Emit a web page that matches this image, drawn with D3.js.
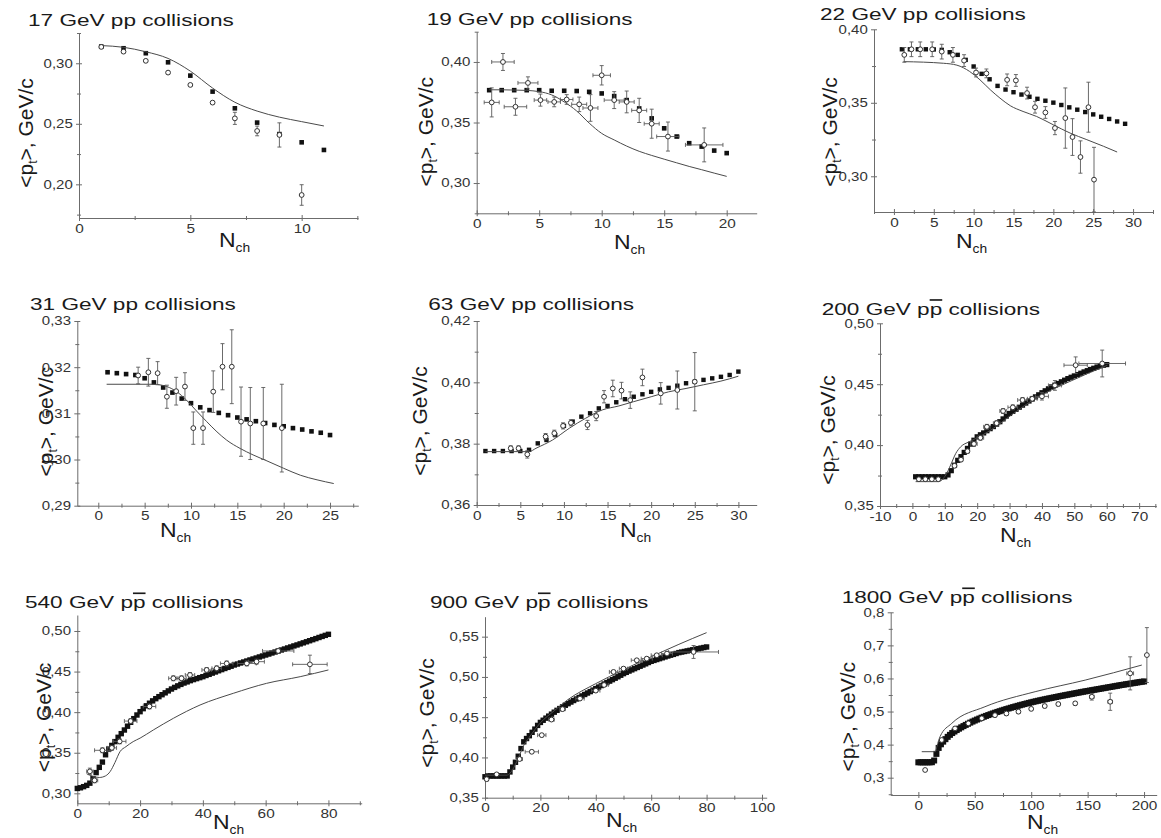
<!DOCTYPE html>
<html>
<head>
<meta charset="utf-8">
<script src="https://cdn.jsdelivr.net/npm/d3@7"></script>
<style>
  body { margin: 0; background: #fff; }
  svg { display: block; font-family: "Liberation Sans", Arial, Helvetica, sans-serif; }
</style>
</head>
<body>
<svg id="chart" width="1161" height="838"></svg>
<script>
// ---------- 17 GeV pp ----------
const nch17   = [1,2,3,4,5,6,7,8,9,10,11];
const calc17  = [0.3138,0.3124,0.3083,0.3008,0.2898,0.2766,0.2628,0.2510,0.2415,0.2347,0.2284];
const fit17   = [0.3146,0.3132,0.3095,0.3040,0.2935,0.2795,0.2678,0.2605,0.2555,0.2518,0.2482];
const data17N   = [1,2,3,4,5,6,7,8,9,10];
const data17Pt  = [0.3135,0.3096,0.3020,0.2923,0.2821,0.2675,0.2545,0.2441,0.2408,0.1912];
const data17Err = [0.001,0.001,0.001,0.001,0.001,0.001,0.005,0.004,0.010,0.0085];
const data17ErrN = [0,0,0,0,0,0,0,0,0,0];

// ---------- 19 GeV pp ----------
const nch19   = [1,2,3,4,5,6,7,8,9,10,11,12,13,14,15,16,17,18,19,20];
const calc19  = [0.3767,0.3767,0.3767,0.3767,0.3767,0.3762,0.3762,0.3760,0.3753,0.3740,0.3718,0.3685,0.3616,0.3534,0.3452,0.3384,0.3329,0.3301,0.3268,0.3247];
const fitN19  = [1,2,3,4,5,6,7,8,9,10,11,12,13,14,15,16,17,18,19,20];
const fit19   = [0.3770,0.3770,0.3768,0.3765,0.3755,0.3728,0.3670,0.3595,0.3495,0.3410,0.3356,0.3305,0.3262,0.3228,0.3197,0.3167,0.3137,0.3110,0.3082,0.3055];
const data19N   = [1.2,2.1,3.1,4.1,5.1,6.2,7.2,8.2,9.1,10,11,12,13,14,15.3,18.2];
const data19Pt  = [0.3666,0.4000,0.3630,0.3827,0.3685,0.3670,0.3690,0.3650,0.3620,0.3890,0.3685,0.3670,0.3600,0.3490,0.3384,0.3315];
const data19Err = [0.012,0.007,0.007,0.005,0.005,0.004,0.004,0.006,0.011,0.008,0.007,0.009,0.010,0.012,0.012,0.014];
const data19ErrN = [0.6,0.9,0.9,0.8,0.5,0.5,0.5,0.6,0.6,0.7,0.8,0.6,0.6,0.6,0.9,1.5];

// ---------- 22 GeV pp ----------
const nch22   = [1,2,3,4,5,6,7,8,9,10,11,12,13,14,15,16,17,18,19,20,21,22,23,24,25,26,27,28,29];
const calc22  = [0.3864,0.3864,0.3864,0.3864,0.3863,0.3860,0.3844,0.3826,0.3792,0.3747,0.3697,0.3660,0.3615,0.3590,0.3572,0.3556,0.3541,0.3527,0.3514,0.3501,0.3485,0.3469,0.3453,0.3437,0.3421,0.3405,0.3390,0.3373,0.3357];
const fitN22  = [1.2,6.2,7.9,9.5,10.8,12.1,13.3,14.6,16.2,17.9,20,22.1,24.2,26.3,28];
const fit22   = [0.3780,0.3769,0.3756,0.3713,0.3656,0.3588,0.3532,0.3480,0.3441,0.3407,0.3350,0.3294,0.3249,0.3204,0.3165];
const data22N   = [1.3,2.2,3.3,4.8,6.0,7.4,8.8,10.3,11.6,14.2,15.3,16.7,17.7,19.0,20.2,21.5,22.4,23.4,24.4,25.1];
const data22Pt  = [0.3826,0.3864,0.3864,0.3864,0.3848,0.3826,0.3787,0.3706,0.3700,0.3656,0.3652,0.3566,0.3470,0.3434,0.3328,0.3396,0.3267,0.3131,0.3470,0.2977];
const data22Err = [0.005,0.005,0.005,0.005,0.005,0.005,0.004,0.003,0.003,0.004,0.004,0.004,0.004,0.004,0.0045,0.0205,0.0125,0.0110,0.0170,0.0220];
const data22ErrN = [0,0,0,0,0,0,0,0,0,0,0,0,0,0,0,0,0,0,0,0];

// ---------- 31 GeV pp ----------
const nch31   = [1,2,3,4,5,6,7,8,9,10,11,12,13,14,15,16,17,18,19,20,21,22,23,24,25];
const calc31  = [0.3189,0.3187,0.3185,0.3183,0.3176,0.3167,0.3156,0.3145,0.3132,0.3122,0.3113,0.3107,0.3101,0.3096,0.3091,0.3087,0.3083,0.3079,0.3075,0.3072,0.3068,0.3065,0.3061,0.3058,0.3053];
const fitN31  = [0.9,5.9,7.4,8.45,9.5,10.6,11.7,12.8,13.85,15.3,16.7,18.2,20,21.8,23.6,25.4];
const fit31   = [0.3163,0.3163,0.3158,0.3147,0.3129,0.3105,0.3082,0.3060,0.3042,0.3024,0.3010,0.2997,0.2981,0.2966,0.2956,0.2948];
const data31N   = [4.3,5.4,6.4,7.4,8.4,9.35,10.25,11.3,12.4,13.4,14.4,15.4,16.4,17.8,19.8];
const data31Pt  = [0.3182,0.3189,0.3187,0.3136,0.3148,0.3158,0.3068,0.3068,0.3147,0.3201,0.3201,0.3082,0.3078,0.3078,0.3068];
const data31Err = [0.0018,0.003,0.0025,0.0025,0.003,0.003,0.0035,0.0035,0.0045,0.005,0.008,0.0075,0.0078,0.0078,0.0095];
const data31ErrN = [0,0,0,0,0,0,0,0,0,0,0,0,0,0,0];

// ---------- 63 GeV pp ----------
const nch63   = [1,2,3,4,5,6,7,8,9,10,11,12,13,14,15,16,17,18,19,20,21,22,23,24,25,26,27,28,29,30];
const calc63  = [0.3776,0.3776,0.3776,0.3776,0.3776,0.3780,0.3801,0.3812,0.3828,0.3858,0.3872,0.3888,0.3899,0.3915,0.3923,0.3935,0.3945,0.3953,0.3961,0.3969,0.3977,0.3982,0.3989,0.3997,0.4002,0.4008,0.4013,0.4018,0.4024,0.4035];
const fitN63  = [1,6,6.8,8.7,10.6,12.5,14.4,16.3,18,20,22,24,26,28,30];
const fit63   = [0.3774,0.3774,0.3785,0.3812,0.3850,0.3883,0.3910,0.3923,0.3937,0.3953,0.3969,0.3980,0.3992,0.4004,0.4020];
const data63N   = [3.9,4.8,5.8,7.9,8.9,9.9,10.8,12.7,13.7,14.6,15.6,16.6,17.6,19.0,21.1,23.0,25.0];
const data63Pt  = [0.3785,0.3785,0.3765,0.3823,0.3834,0.3858,0.3868,0.3861,0.3890,0.3953,0.3980,0.3973,0.3942,0.4016,0.3964,0.3975,0.4002];
const data63Err = [0.0008,0.0008,0.0012,0.001,0.001,0.001,0.001,0.0015,0.0015,0.002,0.0027,0.0027,0.0027,0.0027,0.0035,0.0062,0.0095];
const data63ErrN = [0,0,0,0,0,0,0,0,0,0,0,0,0,0,0,0,0];

// ---------- 200 GeV p-pbar (integer multiplicities 1..60) ----------
const nch200  = d3.range(1, 61);
const calc200 = [0.374,0.374,0.374,0.374,0.374,0.374,0.374,0.374,0.374,0.374,
                 0.3755,0.379,0.3835,0.3875,0.3905,0.394,0.3973,0.4008,0.404,0.4068,
                 0.4085,0.41,0.4118,0.4135,0.4152,0.4172,0.4192,0.4215,0.4238,0.426,
                 0.4277,0.4294,0.4311,0.4328,0.4345,0.4362,0.4379,0.4396,0.4413,0.443,
                 0.4446,0.4462,0.4478,0.4492,0.4506,0.452,0.4533,0.4546,0.4557,0.4568,
                 0.4579,0.459,0.4601,0.4611,0.4621,0.4631,0.4641,0.4651,0.4656,0.4661];
const fitN200 = [1,8,10.3,11.8,13.4,14.9,17.5,21.6,25.7,29.8,38,48.4,60.2];
const fit200  = [0.370,0.370,0.3754,0.3836,0.3932,0.3986,0.4027,0.4082,0.4150,0.4232,0.4383,0.4520,0.4656];
const data200N   = [2,4,6,8,13,15,17,19,21,23,26,28,31,34,37,40,44,50.4,58.6];
const data200Pt  = [0.372,0.372,0.372,0.372,0.383,0.388,0.395,0.401,0.406,0.415,0.418,0.428,0.431,0.437,0.438,0.440,0.449,0.4656,0.467];
const data200Err = [0.001,0.001,0.001,0.001,0.0015,0.0015,0.0015,0.002,0.002,0.002,0.002,0.002,0.002,0.002,0.002,0.003,0.004,0.0068,0.011];
const data200ErrN = [0,0,0,0,0.5,0.5,0.5,1,1,1,1,1,1.5,1.5,1.5,2,2,3.6,7.2];

// ---------- 540 GeV p-pbar (integer multiplicities 0..80) ----------
const nch540  = d3.range(0, 81);
const calc540 = [0.306,0.3068,0.3082,0.3098,0.3125,0.318,0.3255,0.332,0.3385,0.3475,
                 0.3545,0.359,0.3637,0.369,0.3735,0.378,0.3827,0.3875,0.392,0.3965,
                 0.4006,0.4043,0.4078,0.411,0.4139,0.4166,0.4191,0.4215,0.4238,0.4262,
                 0.4285,0.4305,0.4324,0.4342,0.4359,0.4373,0.4388,0.4401,0.4413,0.4425,
                 0.4437,0.4452,0.4466,0.4481,0.4495,0.451,0.4524,0.4538,0.4552,0.4566,
                 0.4581,0.4593,0.4606,0.4618,0.463,0.4643,0.4655,0.4667,0.468,0.4692,
                 0.4704,0.4716,0.4729,0.4741,0.4754,0.4766,0.4778,0.4791,0.4803,0.4816,
                 0.4828,0.4841,0.4854,0.4867,0.488,0.4893,0.4906,0.492,0.4933,0.4946,0.4959];
const fitN540 = [3,5,7,9,10.5,12,13.6,15.5,17.8,20,24.2,30.6,39.1,49.7,60.3,71,80];
const fit540  = [0.324,0.321,0.3195,0.3215,0.327,0.338,0.3513,0.3575,0.3637,0.368,0.378,0.3924,0.4088,0.4232,0.4355,0.4437,0.452];
const data540N   = [4,5.5,8,11,13.5,17,23,30.6,33.2,35.9,41.2,44.4,47.6,54,57.1,64,74.1];
const data540Pt  = [0.327,0.316,0.353,0.356,0.364,0.389,0.407,0.4417,0.4417,0.4458,0.452,0.454,0.460,0.460,0.4622,0.4754,0.4589];
const data540Err = [0.004,0.003,0.003,0.003,0.003,0.003,0.003,0.003,0.003,0.003,0.003,0.003,0.003,0.003,0.003,0.003,0.0113];
const data540ErrN = [1,1,2.5,1.5,2,2,2,1.5,1.5,1.5,1.5,1.5,2,3,2.5,5,5.5];

// ---------- 900 GeV p-pbar (integer multiplicities 0..80) ----------
const nch900  = d3.range(0, 81);
const calc900 = [0.376,0.377,0.377,0.377,0.377,0.377,0.377,0.377,0.377,0.382,
                 0.388,0.394,0.4015,0.411,0.4194,0.4235,0.427,0.4312,0.4352,0.4398,
                 0.4435,0.4462,0.4488,0.4513,0.4538,0.4562,0.4585,0.4607,0.4628,0.4648,
                 0.4668,0.4688,0.4707,0.4726,0.4745,0.4764,0.4782,0.48,0.4818,0.4836,
                 0.4855,0.4874,0.4893,0.4912,0.493,0.4948,0.4966,0.4984,0.5002,0.5021,
                 0.5041,0.5057,0.5073,0.5088,0.5103,0.5118,0.5133,0.5148,0.5163,0.5179,
                 0.5194,0.5205,0.5216,0.5227,0.5238,0.5249,0.526,0.527,0.528,0.5291,
                 0.5302,0.5309,0.5316,0.5323,0.533,0.5337,0.5344,0.5351,0.5358,0.5365,0.5372];
const fitN900 = [0,8,10,12,14,16,20,25,30,40,50,60,70,80];
const fit900  = [0.378,0.378,0.385,0.399,0.415,0.425,0.443,0.458,0.472,0.4917,0.509,0.525,0.5405,0.555];
const data900N   = [0.6,4.2,12.5,16.9,20.5,24,28,34.3,40,43,46.4,50,54.8,58.4,62,65.7,75.3];
const data900Pt  = [0.373,0.379,0.398,0.407,0.4277,0.447,0.460,0.4731,0.483,0.490,0.5062,0.5103,0.5207,0.5227,0.5269,0.5290,0.5310];
const data900Err = [0.002,0.001,0.002,0.002,0.002,0.002,0.002,0.002,0.002,0.002,0.002,0.002,0.002,0.002,0.002,0.002,0.008];
const data900ErrN = [0.5,0.5,1,2.4,1.5,1,1,1.5,1.5,1.5,1.5,1.5,2,2,2,2,9];

// ---------- 1800 GeV p-pbar (even multiplicities 0..200) ----------
const nch1800  = d3.range(0, 201, 2);
const calc1800 = [0.3465,0.3465,0.3465,0.3465,0.3465,0.3465,0.3468,0.352,0.372,0.39,
                  0.401,0.409,0.4165,0.4235,0.4295,0.435,0.4396,0.444,0.4482,0.4522,
                  0.456,0.4596,0.4631,0.4665,0.4697,0.4728,0.4758,0.4787,0.4815,0.4842,
                  0.4868,0.4893,0.4918,0.4942,0.4965,0.4988,0.501,0.5032,0.5053,0.5074,
                  0.5094,0.5114,0.5134,0.5153,0.5172,0.519,0.5208,0.5226,0.5244,0.5261,
                  0.5278,0.5294,0.531,0.5325,0.534,0.5355,0.537,0.5384,0.5398,0.5412,
                  0.5426,0.544,0.5454,0.5468,0.5481,0.5494,0.5507,0.552,0.5533,0.5546,
                  0.5559,0.5572,0.5585,0.5598,0.561,0.5622,0.5634,0.5646,0.5658,0.567,
                  0.5682,0.5694,0.5706,0.5718,0.573,0.5742,0.5754,0.5766,0.5778,0.579,
                  0.5802,0.5813,0.5824,0.5835,0.5846,0.5857,0.5868,0.5879,0.589,0.59,0.591];
const fitN1800 = [3,15,16.5,19.2,29.6,59,103.5,147.8,198];
const fit1800  = [0.3786,0.3786,0.395,0.424,0.4643,0.5145,0.560,0.595,0.6405];
const data1800N   = [6,20.7,32.5,44.3,56.2,67.9,78,88.7,100,112,124,139,153.7,170,187.7,202.5];
const data1800Pt  = [0.3233,0.414,0.449,0.4643,0.4795,0.489,0.494,0.4995,0.508,0.5166,0.5226,0.5248,0.5447,0.5296,0.6154,0.6707];
const data1800Err = [0.004,0.005,0.005,0.005,0.005,0.005,0.005,0.005,0.005,0.005,0.005,0.005,0.01,0.026,0.05,0.083];
const data1800ErrN = [1,1,1,1,1,1,1,1,1,1,1,1,2,2,3,0];

// ---------- tick labels ----------
const xTicks17 = [0,5,10],            yTicks17 = [0.20,0.25,0.30];
const xTicks19 = [0,5,10,15,20],      yTicks19 = [0.30,0.35,0.40];
const xTicks22 = [0,5,10,15,20,25,30], yTicks22 = [0.30,0.35,0.40];
const xTicks31 = [0,5,10,15,20,25],   yTicks31 = [0.29,0.30,0.31,0.32,0.33];
const xTicks63 = [0,5,10,15,20,25,30], yTicks63 = [0.36,0.38,0.40,0.42];
const xTicks200 = [-10,0,10,20,30,40,50,60,70], yTicks200 = [0.35,0.40,0.45,0.50];
const xTicks540 = [0,20,40,60,80],     yTicks540 = [0.30,0.35,0.40,0.45,0.50];
const xTicks900 = [0,20,40,60,80,100], yTicks900 = [0.35,0.40,0.45,0.50,0.55];
const xTicks1800 = [0,50,100,150,200], yTicks1800 = [0.3,0.4,0.5,0.6,0.7,0.8];

// ---------- layout of the 3x3 grid ----------
const panels = [
  { energy: 17, anti: false, box: [79, 358, 33, 218], xDomain: [0, 12.53], yDomain: [0.1722, 0.325],
    xTicks: xTicks17, yTicks: yTicks17, yDigits: 2, title: [28, 25.5], ylab: [32.5, 133], xlab: [219, 246.5],
    calc: [nch17, calc17], fit: [nch17, fit17], data: [data17N, data17Pt, data17Err, data17ErrN], sq: 4.6 },
  { energy: 19, anti: false, box: [476.7, 756.7, 31.7, 213.3], xDomain: [0, 22.4], yDomain: [0.275, 0.425],
    xTicks: xTicks19, yTicks: yTicks19, yDigits: 2, title: [426.7, 25], ylab: [433, 131.7], xlab: [614, 249],
    calc: [nch19, calc19], fit: [fitN19, fit19], data: [data19N, data19Pt, data19Err, data19ErrN], sq: 4.6 },
  { energy: 22, anti: false, box: [874, 1153, 29.3, 212], xDomain: [-2.5, 32.5], yDomain: [0.2757, 0.40],
    xTicks: xTicks22, yTicks: yTicks22, yDigits: 2, title: [820, 20], ylab: [837, 132], xlab: [956, 248],
    calc: [nch22, calc22], fit: [fitN22, fit22], data: [data22N, data22Pt, data22Err, data22ErrN], sq: 4.4 },
  { energy: 31, anti: false, box: [77.3, 358.3, 321, 505.7], xDomain: [-2.265, 28.05], yDomain: [0.29, 0.33],
    xTicks: xTicks31, yTicks: yTicks31, yDigits: 2, title: [30, 310], ylab: [53, 421.7], xlab: [160, 537],
    calc: [nch31, calc31], fit: [fitN31, fit31], data: [data31N, data31Pt, data31Err, data31ErrN], sq: 4.6 },
  { energy: 63, anti: false, box: [476.7, 756.7, 321, 505], xDomain: [0, 32.1], yDomain: [0.36, 0.42],
    xTicks: xTicks63, yTicks: yTicks63, yDigits: 2, title: [428.3, 310], ylab: [427, 421], xlab: [620, 537],
    calc: [nch63, calc63], fit: [fitN63, fit63], data: [data63N, data63Pt, data63Err, data63ErrN], sq: 4.4 },
  { energy: 200, anti: true, box: [880, 1156.3, 323.3, 506], xDomain: [-10, 75.3], yDomain: [0.35, 0.50],
    xTicks: xTicks200, yTicks: yTicks200, yDigits: 2, title: [821.7, 315], ylab: [835, 430], xlab: [1000, 542],
    calc: [nch200, calc200], fit: [fitN200, fit200], data: [data200N, data200Pt, data200Err, data200ErrN], sq: 5.2 },
  { energy: 540, anti: true, box: [77.3, 361.7, 615, 803.3], xDomain: [0, 90.6], yDomain: [0.2877, 0.5197],
    xTicks: xTicks540, yTicks: yTicks540, yDigits: 2, title: [25, 608.3], ylab: [51, 717.5], xlab: [213, 829],
    calc: [nch540, calc540], fit: [fitN540, fit540], data: [data540N, data540Pt, data540Err, data540ErrN], sq: 5.4 },
  { energy: 900, anti: true, box: [485, 766.7, 616.7, 797.7], xDomain: [0, 101.7], yDomain: [0.35, 0.5748],
    xTicks: xTicks900, yTicks: yTicks900, yDigits: 2, title: [430, 608.3], ylab: [434, 713], xlab: [606, 827],
    calc: [nch900, calc900], fit: [fitN900, fit900], data: [data900N, data900Pt, data900Err, data900ErrN], sq: 5.4 },
  { energy: 1800, anti: true, box: [890.7, 1156.7, 612.3, 795], xDomain: [-24.5, 211.2], yDomain: [0.2477, 0.80],
    xTicks: xTicks1800, yTicks: yTicks1800, yDigits: 1, title: [841.7, 603.3], ylab: [855, 716.7], xlab: [1027, 829],
    calc: [nch1800, calc1800], fit: [fitN1800, fit1800], data: [data1800N, data1800Pt, data1800Err, data1800ErrN], sq: 6 }
];

const AXIS = "#6c6c6c";
const INK = "#1a1a1a";
const FONT = '"Liberation Sans", Arial, sans-serif';
const svg = d3.select("#chart");

// half-way ticks between the labelled ones, kept inside the axis range
function minorTicks(major, domain) {
  const s = major[1] - major[0];
  let v = major[0] - s / 2;
  while (v - s >= domain[0] - 1e-9) v -= s;
  const out = [];
  for (; v <= domain[1] + 1e-9; v += s) if (v >= domain[0] - 1e-9) out.push(+v.toFixed(6));
  return out;
}

function drawPanel(p) {
  const [L, R, T, B] = p.box;
  const x = d3.scaleLinear().domain(p.xDomain).range([L, R]);
  const y = d3.scaleLinear().domain(p.yDomain).range([B, T]);
  const g = svg.append("g");

  // minor ticks
  g.append("g").attr("transform", `translate(0,${B})`)
    .call(d3.axisBottom(x).tickValues(minorTicks(p.xTicks, p.xDomain)).tickFormat("").tickSize(0))
    .call(a => a.select(".domain").remove())
    .call(a => a.selectAll(".tick line").attr("y1", -2).attr("y2", 2).attr("stroke", AXIS));
  g.append("g").attr("transform", `translate(${L},0)`)
    .call(d3.axisLeft(y).tickValues(minorTicks(p.yTicks, p.yDomain)).tickFormat("").tickSize(0))
    .call(a => a.select(".domain").remove())
    .call(a => a.selectAll(".tick line").attr("x1", -2).attr("x2", 2).attr("stroke", AXIS));

  // major ticks and labels
  const xa = g.append("g").attr("transform", `translate(0,${B})`)
    .call(d3.axisBottom(x).tickValues(p.xTicks).tickSizeOuter(0).tickSizeInner(3).tickFormat(d => String(d)));
  xa.select(".domain").attr("stroke", AXIS);
  xa.selectAll(".tick line").attr("y1", -3).attr("y2", 3).attr("stroke", AXIS);
  xa.selectAll(".tick text").attr("y", 6).attr("font-size", 12).attr("font-family", FONT)
    .attr("fill", "#333").attr("transform", "scale(1.28,1)");

  const fmt = d => d.toFixed(p.yDigits).replace(".", ",");
  const ya = g.append("g").attr("transform", `translate(${L},0)`)
    .call(d3.axisLeft(y).tickValues(p.yTicks).tickSizeOuter(0).tickSizeInner(3).tickFormat(fmt));
  ya.select(".domain").attr("stroke", AXIS);
  ya.selectAll(".tick line").attr("x1", -3).attr("x2", 3).attr("stroke", AXIS);
  ya.selectAll(".tick text").attr("x", -5).attr("font-size", 12).attr("font-family", FONT)
    .attr("fill", "#333").attr("transform", "scale(1.25,1)");

  // model: filled squares
  const [cn, cv] = p.calc;
  const s = p.sq;
  g.append("g").selectAll("rect").data(cn.map((n, i) => [n, cv[i]])).join("rect")
    .attr("x", d => x(d[0]) - s / 2).attr("y", d => y(d[1]) - s / 2)
    .attr("width", s).attr("height", s).attr("fill", "#111");

  // second model: thin line
  const [fn, fv] = p.fit;
  g.append("path").datum(fn.map((n, i) => [n, fv[i]]))
    .attr("fill", "none").attr("stroke", "#4a4a4a").attr("stroke-width", 1)
    .attr("d", d3.line().x(d => x(d[0])).y(d => y(d[1])).curve(d3.curveMonotoneX));

  // measurements: open circles with error bars
  const [dn, dv, de, den] = p.data;
  const pts = dn.map((n, i) => ({ n, v: dv[i], e: de[i], en: den[i] }));
  const eb = g.append("g").attr("stroke", "#5a5a5a").attr("stroke-width", 0.9).attr("fill", "none");
  const cap = 2;
  pts.forEach(d => {
    const cx = x(d.n), cy = y(d.v);
    if (d.e > 0) {
      const y1 = y(d.v - d.e), y2 = y(d.v + d.e);
      eb.append("line").attr("x1", cx).attr("x2", cx).attr("y1", y1).attr("y2", y2);
      eb.append("line").attr("x1", cx - cap).attr("x2", cx + cap).attr("y1", y1).attr("y2", y1);
      eb.append("line").attr("x1", cx - cap).attr("x2", cx + cap).attr("y1", y2).attr("y2", y2);
    }
    if (d.en > 0) {
      const x1 = x(d.n - d.en), x2 = x(d.n + d.en);
      eb.append("line").attr("x1", x1).attr("x2", x2).attr("y1", cy).attr("y2", cy);
      eb.append("line").attr("x1", x1).attr("x2", x1).attr("y1", cy - cap).attr("y2", cy + cap);
      eb.append("line").attr("x1", x2).attr("x2", x2).attr("y1", cy - cap).attr("y2", cy + cap);
    }
  });
  g.append("g").selectAll("circle").data(pts).join("circle")
    .attr("cx", d => x(d.n)).attr("cy", d => y(d.v)).attr("r", 2.4)
    .attr("fill", "#fff").attr("stroke", "#333").attr("stroke-width", 1);

  // title
  const t = g.append("text")
    .attr("transform", `translate(${p.title[0]},${p.title[1]}) scale(1.37,1)`)
    .attr("font-size", 16.5).attr("fill", INK).style("white-space", "pre");
  t.append("tspan").text(`${p.energy} GeV p`);
  const pb = t.append("tspan").text("p");
  if (p.anti) pb.style("text-decoration", "overline");
  t.append("tspan").text(" collisions");

  // y label
  const yl = g.append("text")
    .attr("transform", `translate(${p.ylab[0]},${p.ylab[1]}) rotate(-90)`)
    .attr("text-anchor", "middle").attr("font-size", 21).attr("fill", INK).style("white-space", "pre");
  yl.append("tspan").text("<p");
  yl.append("tspan").attr("font-size", 12).attr("dy", 4).text("t");
  yl.append("tspan").attr("dy", -4).text(">, GeV/c");

  // x label
  const xl = g.append("text")
    .attr("transform", `translate(${p.xlab[0]},${p.xlab[1]}) scale(1.15,1)`)
    .attr("font-size", 20).attr("fill", INK);
  xl.append("tspan").text("N");
  xl.append("tspan").attr("font-size", 12).attr("dy", 5).text("ch");
}

panels.forEach(drawPanel);
</script>
</body>
</html>
